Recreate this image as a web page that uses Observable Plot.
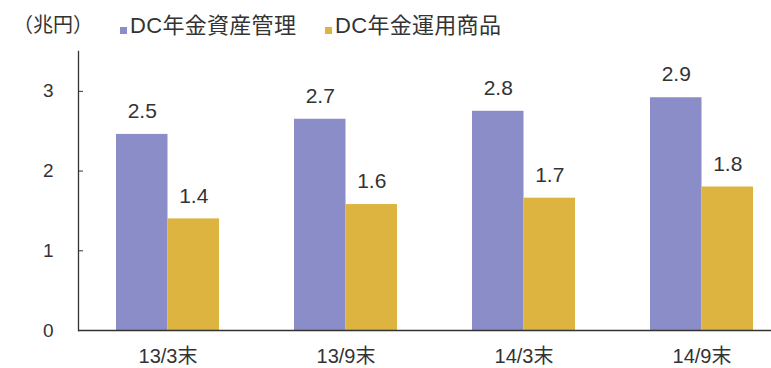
<!DOCTYPE html>
<html><head><meta charset="utf-8">
<script src="https://cdn.jsdelivr.net/npm/d3@7"></script>
<script src="https://cdn.jsdelivr.net/npm/@observablehq/plot@0.6"></script>
<style>
body{margin:0;background:#fff;}
#wrap{position:relative;width:771px;height:368px;overflow:hidden;font-family:"Liberation Sans",Arial,"Noto Sans CJK JP",sans-serif;color:#333;}
#unit{position:absolute;left:13px;top:12px;font-size:20px;line-height:26px;}
.leg{position:absolute;top:13px;font-size:22px;line-height:26px;letter-spacing:0.3px;display:flex;align-items:center;white-space:nowrap;}
.sw{display:inline-block;width:7px;height:7px;margin-right:3px;margin-top:8px;}
#chart{position:absolute;left:0;top:0;}
</style></head>
<body>
<div id="wrap">
  <div id="chart"></div>
  <div id="unit">（兆円）</div>
  <div id="legend"></div>
</div>
<script>
const periods = ["13/3末", "13/9末", "14/3末", "14/9末"];
const seriesNames = ["DC年金資産管理", "DC年金運用商品"];
const seriesColors = ["#8B8DC9", "#DDB43F"];
const assetMgmt = [2.46, 2.65, 2.75, 2.92];
const products = [1.40, 1.58, 1.66, 1.80];
const assetLabels = ["2.5", "2.7", "2.8", "2.9"];
const productLabels = ["1.4", "1.6", "1.7", "1.8"];
const yTicks = [0, 1, 2, 3];

const rowsA = periods.map((p, i) => ({period: p, value: assetMgmt[i], label: assetLabels[i]}));
const rowsP = periods.map((p, i) => ({period: p, value: products[i], label: productLabels[i]}));

const half = 51.5;
const font = '"Liberation Sans", Arial, "Noto Sans CJK JP", sans-serif';

const chart = Plot.plot({
  width: 771,
  height: 368,
  marginLeft: 78,
  marginRight: 0,
  marginTop: 51,
  marginBottom: 38,
  style: {fontFamily: font, fontSize: "19px", color: "#333", background: "transparent"},
  x: {domain: periods, range: [78, 791], paddingInner: 0.422, paddingOuter: 0.211, label: null},
  y: {domain: [0, 3.5], label: null},
  marks: [
    Plot.barY(rowsA, {x: "period", y: "value", fill: seriesColors[0], insetRight: half}),
    Plot.barY(rowsP, {x: "period", y: "value", fill: seriesColors[1], insetLeft: half}),
    Plot.text(rowsA, {x: "period", y: "value", text: "label", dx: -half / 2, dy: -23, fontSize: 21, fill: "#333"}),
    Plot.text(rowsP, {x: "period", y: "value", text: "label", dx: half / 2, dy: -23, fontSize: 21, fill: "#333"}),
    Plot.ruleY([0], {stroke: "#333", strokeWidth: 1.3}),
    Plot.frame({anchor: "left", stroke: "#333", strokeWidth: 1.3}),
    Plot.axisY({ticks: yTicks, tickSize: 0, tickPadding: 25, fontSize: 19, tickFormat: d => String(d)}),
    Plot.axisY({ticks: yTicks, tickSize: 5, text: null, dx: 5, stroke: "#333"}),
    Plot.axisX({tickSize: 0, tickPadding: 18, fontSize: 20})
  ]
});
document.getElementById("chart").appendChild(chart);

const legend = document.getElementById("legend");
const legendX = [120, 325];
seriesNames.forEach((name, i) => {
  const d = document.createElement("div");
  d.className = "leg";
  d.style.left = legendX[i] + "px";
  d.innerHTML = `<span class="sw" style="background:${seriesColors[i]}"></span><span>${name}</span>`;
  legend.appendChild(d);
});
</script>
</body></html>
